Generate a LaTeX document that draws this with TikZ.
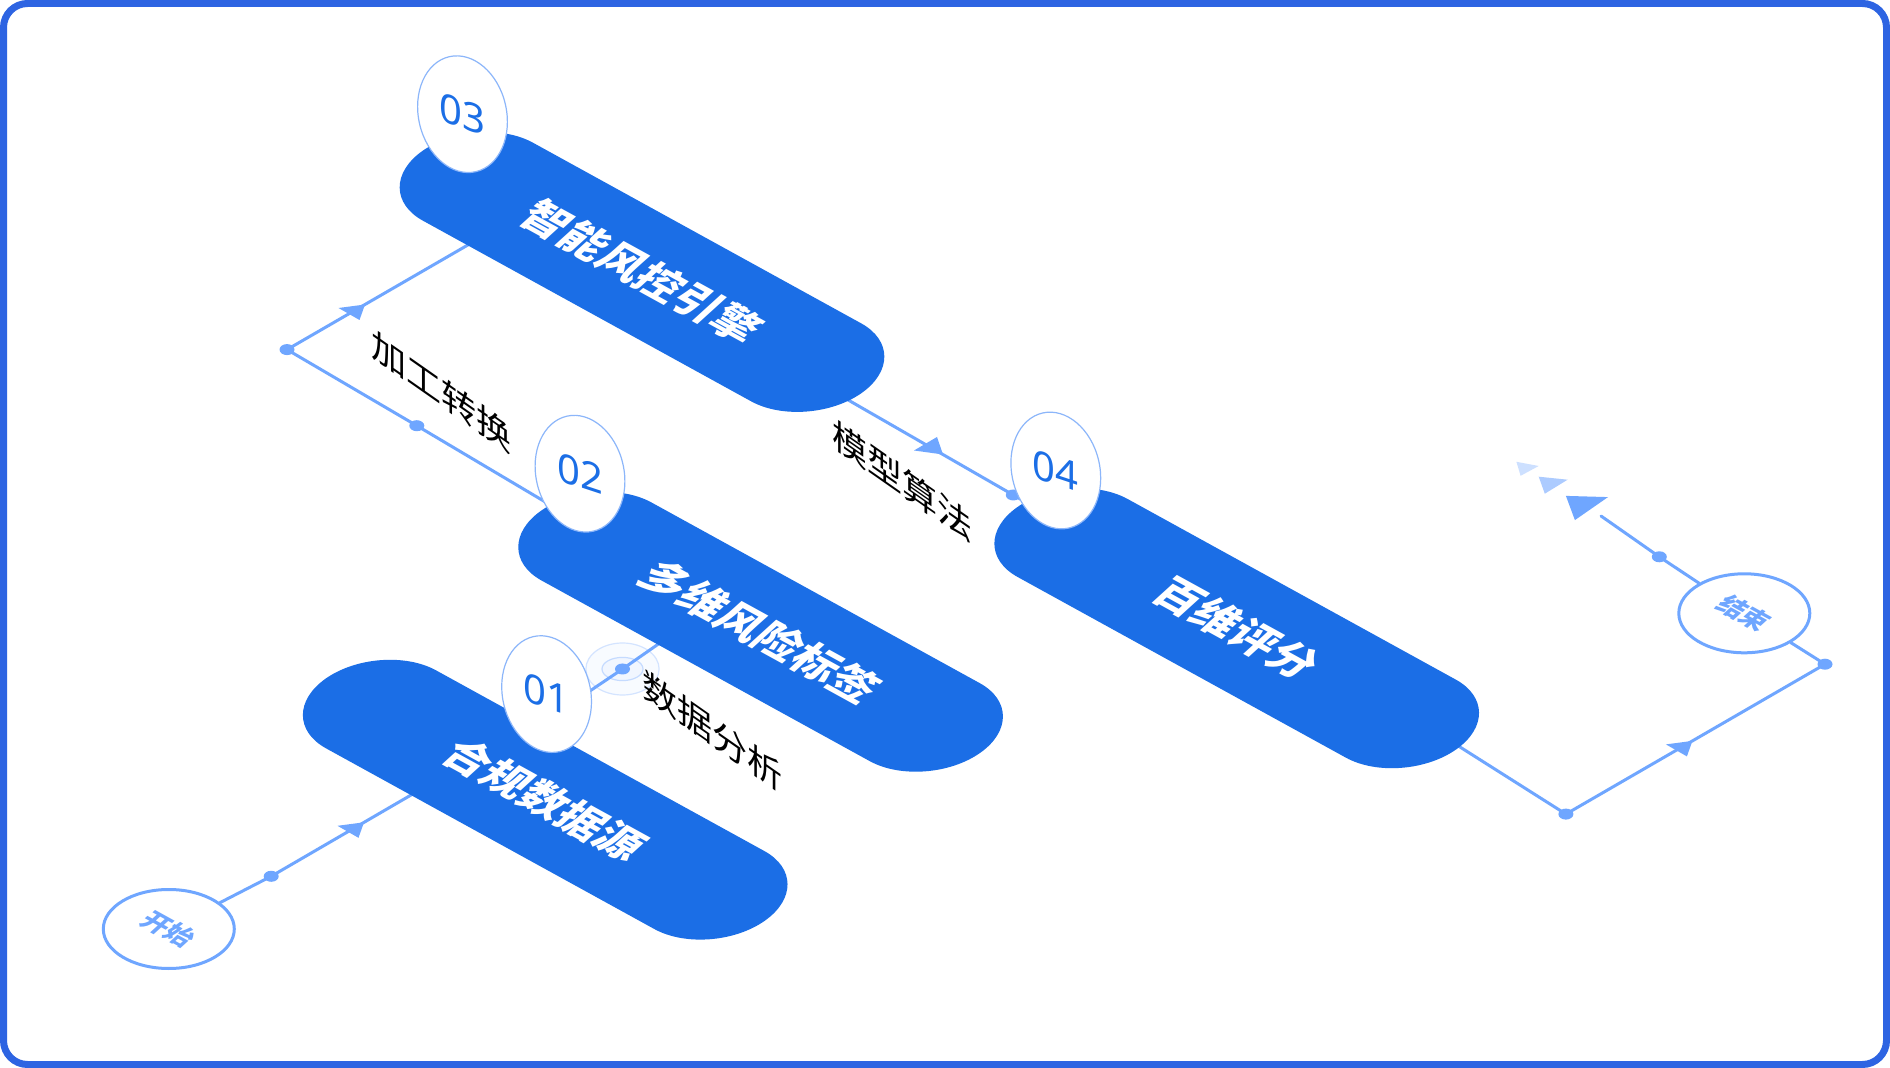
\documentclass[tikz,border=0pt]{standalone}
\usepackage{fontspec}
\usetikzlibrary{shapes.geometric}
\newfontfamily\cjk{Noto Sans CJK SC}
\newfontfamily\numfont{Noto Sans}
\definecolor{pillblue}{RGB}{27,110,230}
\definecolor{connblue}{RGB}{111,166,255}
\definecolor{frameblue}{RGB}{45,100,226}
\definecolor{ringblue}{RGB}{140,182,250}
\definecolor{fadeA}{RGB}{205,224,255}
\definecolor{fadeB}{RGB}{172,203,255}
\newcommand\pillshape{(-1.476,-0.5) -- (1.476,-0.5) .. controls (1.752,-0.5) and (1.976,-0.276) .. (1.976,0) .. controls (1.976,0.276) and (1.752,0.5) .. (1.476,0.5) -- (-1.476,0.5) .. controls (-1.752,0.5) and (-1.976,0.276) .. (-1.976,0) .. controls (-1.976,-0.276) and (-1.752,-0.5) .. (-1.476,-0.5) -- cycle}
\tikzset{
  conn/.style={draw=connblue, line width=1.5pt, line cap=round, line join=round},
  arrowfill/.style={fill=connblue},
  dotc/.style={fill=connblue},
  pill/.style={fill=pillblue},
  pilltext/.style={text=white, font=\cjk\bfseries\fontsize{21.5}{21.5}\selectfont, cm={0.876,-0.482,0.74,0.672,(0,0)}, inner sep=0pt},
  numell/.style={ellipse, draw=ringblue, line width=0.6pt, fill=white, minimum width=44pt, minimum height=59pt, inner sep=0pt, rotate=13},
  numtext/.style={text=pillblue, font=\numfont\fontsize{20}{20}\selectfont, yslant=-0.33, inner sep=0pt},
  endell/.style={ellipse, draw=connblue, line width=1.5pt, fill=white, minimum width=65.5pt, minimum height=39.5pt, inner sep=0pt},
  seltext/.style={text=connblue, font=\cjk\bfseries\fontsize{13}{13}\selectfont, cm={0.876,-0.482,0.74,0.672,(0,0)}, inner sep=0pt},
  lbl/.style={text=black, font=\cjk\fontsize{17.5}{17.5}\selectfont, yslant=-0.7, inner sep=0pt},
  ripple/.style={draw=connblue!30, line width=0.6pt, fill=connblue!5},
  frame/.style={draw=frameblue, line width=3.5pt, rounded corners=12pt}
}
\begin{document}
\begin{tikzpicture}[x=0.5pt,y=-0.5pt]
\useasboundingbox (0,0) rectangle (1890,1068);
\fill[white] (0,0) rectangle (1890,1068);

% pill centres
\coordinate (p1) at (545.2,799.7);
\coordinate (p2) at (760.6,631.8);
\coordinate (p3) at (642,272);
\coordinate (p4) at (1236.7,628.3);

% start / end
\node[endell] (start) at (168.8,929) {};
\node[endell] (end) at (1744.3,613.3) {};

% connector points
\coordinate (d1) at (271.2,876.3);
\coordinate (p1in) at (430,784);
\coordinate (T1) at (364,822.3);
\coordinate (c1a) at (578,699);
\coordinate (dd) at (622.5,669);
\coordinate (c1b) at (680,629);
\coordinate (c2a) at (575,519.6);
\coordinate (d2) at (416.8,425.7);
\coordinate (corner) at (287,349.6);
\coordinate (c3a) at (490,232.2);
\coordinate (T2) at (365,304.5);
\coordinate (c3b) at (800,372.3);
\coordinate (d4) at (1013.3,495);
\coordinate (c4a) at (1040,510.4);
\coordinate (T3) at (943,454.5);
\coordinate (c4b) at (1420,721.7);
\coordinate (db) at (1565.9,814.1);
\coordinate (dr) at (1825,664.2);
\coordinate (dt) at (1659.3,556.8);
\coordinate (free) at (1601,516);
\coordinate (T4) at (1692.4,740.9);

% ripple rings
\draw[ripple] (dd) ellipse [x radius=36.6, y radius=26];
\draw[draw=connblue!40, line width=0.6pt, fill=connblue!10] (dd) ellipse [x radius=20.5, y radius=11.6];

% connectors
\draw[conn] (start) -- (d1) -- (p1in);
\draw[conn] (c1a) -- (dd) -- (c1b);
\draw[conn] (c2a) -- (d2) -- (corner) -- (c3a);
\draw[conn] (c3b) -- (d4) -- (c4a);
\draw[conn] (c4b) -- (db) -- (dr) -- (end);
\draw[conn] (end) -- (dt) -- (free);

% arrowheads on lines
\fill[arrowfill] (T1) -- ++(-26.5,3.5) -- ++(21,12) -- cycle;
\fill[arrowfill] (T2) -- ++(-26.5,3.5) -- ++(21,12) -- cycle;
\fill[arrowfill] (T4) -- ++(-26.5,3.5) -- ++(21,12) -- cycle;
\fill[arrowfill] (T3) -- ++(-29,-4) -- ++(23,-13.5) -- cycle;

% fading arrowheads at the end
\fill[fadeA] (1516.4,461.8) -- (1538.7,466) -- (1520.6,475.8) -- cycle;
\fill[fadeB] (1538.7,476.7) -- (1567.6,479.7) -- (1544.8,493.7) -- cycle;
\fill[connblue] (1565.9,495.9) -- (1608,497.1) -- (1574.9,520.1) -- cycle;

% dots
\foreach \d in {d1,d2,corner,dd,d4,db,dr,dt}
  \fill[dotc] (\d) ellipse [x radius=7.5, y radius=5.5];

% pills
\begin{scope}[shift={(p1)}, x={(55.6pt,-30.6pt)}, y={(55pt,39pt)}]
  \fill[pill] \pillshape;
\end{scope}
\begin{scope}[shift={(p2)}, x={(55.6pt,-30.6pt)}, y={(55pt,39pt)}]
  \fill[pill] \pillshape;
\end{scope}
\begin{scope}[shift={(p3)}, x={(55.6pt,-30.6pt)}, y={(55pt,39pt)}]
  \fill[pill] \pillshape;
\end{scope}
\begin{scope}[shift={(p4)}, x={(55.6pt,-30.6pt)}, y={(55pt,39pt)}]
  \fill[pill] \pillshape;
\end{scope}
\node[pilltext] (t1) at (p1) {合规数据源};
\node[pilltext] (t2) at (p2) {多维风险标签};
\node[pilltext] (t3) at (p3) {智能风控引擎};
\node[pilltext] (t4) at (p4) {百维评分};

% number badges
\node[numell] (n1) at (546.6,694.1) {};
\node[numell] (n2) at (580,473.7) {};
\node[numell] (n3) at (462.5,114.2) {};
\node[numell] (n4) at (1055.8,470.5) {};
\node[numtext] at (n1) {01};
\node[numtext] at (n2) {02};
\node[numtext] at (n3) {03};
\node[numtext] at (n4) {04};

% start / end texts
\node[seltext] at (start) {开始};
\node[seltext] at (end) {结束};

% labels
\node[lbl] (l1) at (441.5,391.5) {加工转换};
\node[lbl] (l2) at (902,481) {模型算法};
\node[lbl] (l3) at (712,731) {数据分析};

% frame
\draw[frame] (3.5,3.5) rectangle (1886.5,1064.5);
\end{tikzpicture}
\end{document}
